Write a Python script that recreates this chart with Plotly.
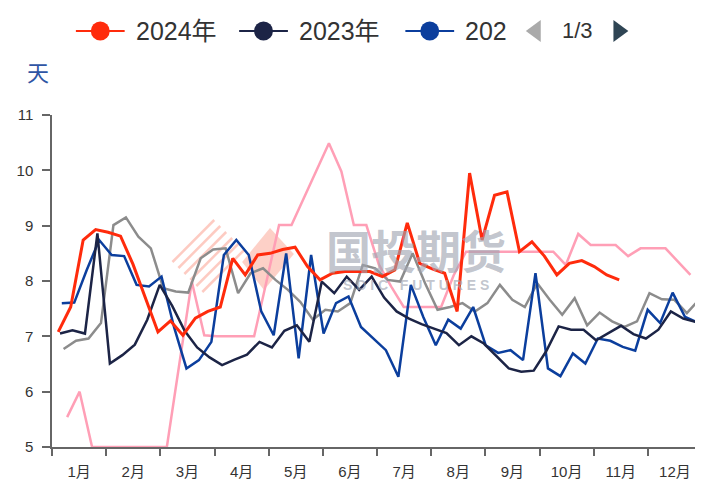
import pandas as pd
import plotly.graph_objects as go

# ---------------- data (weekly) ----------------
series_names = ["2020年", "2021年", "2022年", "2023年", "2024年"]
start_dates = ["2020-01-09", "2021-01-07", "2022-01-06", "2023-01-05", "2024-01-04"]

v2020 = [5.54, 6.00, 5.00, 5.00, 5.00, 5.00, 5.00, 5.00, 5.00, 6.50,
         7.99, 7.02, 7.00, 7.00, 7.00, 7.00, 8.00, 9.01, 9.01, 9.50,
         10.00, 10.49, 9.98, 9.01, 9.01, 8.30, 7.90, 7.53, 7.53, 7.53,
         7.53, 8.10, 8.53, 8.53, 8.53, 8.53, 8.53, 8.53, 8.53, 8.53,
         8.29, 8.85, 8.65, 8.65, 8.65, 8.45, 8.59, 8.59, 8.59, 8.35,
         8.11]
v2021 = [6.77, 6.92, 6.96, 7.24, 9.01, 9.15, 8.80, 8.59, 7.87, 7.81,
         7.79, 8.41, 8.57, 8.59, 7.78, 8.14, 8.23, 8.02, 7.84, 7.62,
         7.30, 7.48, 7.45, 7.60, 8.29, 8.23, 8.02, 7.99, 8.50, 7.96,
         7.48, 7.53, 7.60, 7.45, 7.60, 7.93, 7.66, 7.53, 7.96, 7.66,
         7.39, 7.69, 7.20, 7.43, 7.27, 7.17, 7.27, 7.78, 7.67, 7.66,
         7.42, 7.67]
v2022 = [7.60, 7.61, 8.20, 8.74, 8.47, 8.45, 7.93, 7.90, 8.08, 7.17,
         6.42, 6.57, 6.90, 8.47, 8.74, 8.47, 7.45, 7.02, 8.50, 6.60,
         8.47, 7.05, 7.60, 7.72, 7.17, 6.96, 6.75, 6.27, 7.93, 7.35,
         6.84, 7.30, 7.14, 7.53, 6.84, 6.70, 6.75, 6.57, 8.14, 6.42,
         6.28, 6.69, 6.51, 6.96, 6.92, 6.81, 6.74, 7.48, 7.24, 7.79,
         7.35, 7.25]
v2023 = [7.05, 7.11, 7.05, 8.86, 6.51, 6.66, 6.85, 7.30, 7.93, 7.55,
         7.10, 6.80, 6.62, 6.48, 6.58, 6.67, 6.90, 6.80, 7.10, 7.20,
         6.90, 7.99, 7.78, 8.08, 7.84, 8.08, 7.70, 7.45, 7.32, 7.22,
         7.14, 7.06, 6.84, 7.00, 6.87, 6.65, 6.42, 6.36, 6.38, 6.73,
         7.18, 7.12, 7.12, 6.93, 7.06, 7.19, 7.04, 6.96, 7.12, 7.45,
         7.32, 7.26]
v2024 = [7.08, 7.53, 8.74, 8.93, 8.88, 8.81, 8.30, 7.70, 7.08, 7.28,
         7.02, 7.33, 7.45, 7.53, 8.41, 8.11, 8.47, 8.50, 8.57, 8.61,
         8.26, 8.02, 8.14, 8.17, 8.17, 8.17, 8.08, 8.20, 9.05, 8.32,
         8.22, 8.14, 7.45, 9.95, 8.74, 9.55, 9.61, 8.53, 8.71, 8.45,
         8.11, 8.32, 8.37, 8.26, 8.11, 8.02]

month_labels = ["1月", "2月", "3月", "4月", "5月", "6月",
                "7月", "8月", "9月", "10月", "11月", "12月"]
y_ticks = [5, 6, 7, 8, 9, 10, 11]
unit_label = "天"

colors = ["#ff9fb6", "#8c8c8c", "#0b3e9d", "#1c2446", "#ff2b0c"]
widths = [2.5, 2.5, 2.5, 2.5, 3]
values = [v2020, v2021, v2022, v2023, v2024]

# ---------------- figure ----------------
# the page body adds an 8px margin, so layout numbers are shifted by OFF
W, H = 703, 482
OFF = 8
L, T = 49 - OFF, 115 - OFF
R = W - (702 - OFF)
B = H - (447 - OFF)
PW, PH = W - L - R, H - T - B


def px(x):
    """screen pixel x -> paper coordinate"""
    return (x - OFF - L) / PW


def py(y):
    """screen pixel y -> paper coordinate"""
    return (H - B - (y - OFF)) / PH


fig = go.Figure()

for name, start, vals, c, w in zip(series_names, start_dates, values, colors, widths):
    d = pd.date_range(start, periods=len(vals), freq="7D")
    xm = (d.dayofyear.to_numpy() - 0.5) / 365 * 12
    fig.add_trace(go.Scatter(x=xm, y=vals, name=name, mode="lines",
                             line=dict(color=c, width=w), showlegend=False,
                             hovertemplate=name + ": %{y}<extra></extra>"))

shapes = []
annotations = []

# watermark logo (behind data)
wm = "rgba(250,140,120,0.45)"
for i in range(6):
    x0 = 170 + i * 6
    y0 = 262 + i * 6
    shapes.append(dict(type="line", xref="paper", yref="paper", layer="below",
                       x0=px(x0), y0=py(y0), x1=px(x0 + 42), y1=py(y0 - 42),
                       line=dict(color=wm, width=2.5)))
shapes.append(dict(type="path", xref="paper", yref="paper", layer="below",
                   path="M %f,%f L %f,%f L %f,%f L %f,%f Z" % (
                       px(268), py(228), px(292), py(254), px(262), py(290), px(240), py(262)),
                   fillcolor="rgba(250,150,130,0.45)", line=dict(width=0)))

wm_text = "rgba(160,165,178,0.65)"
annotations.append(dict(text="国投期货", xref="paper", yref="paper",
                        x=px(415), y=py(249), xanchor="center", yanchor="middle",
                        showarrow=False,
                        font=dict(family="Noto Sans CJK SC", size=45, weight="bold",
                                  color=wm_text)))
annotations.append(dict(text="S D I C   F U T U R E S", xref="paper", yref="paper",
                        x=px(415), y=py(285), xanchor="center", yanchor="middle",
                        showarrow=False,
                        font=dict(family="Liberation Sans", size=14, weight="bold",
                                  color=wm_text)))

# custom legend (first page of a paged legend)
legend_items = [("2024年", colors[4], 73), ("2023年", colors[3], 237), ("202", colors[2], 404)]
ly = 31
for label, c, x0 in legend_items:
    shapes.append(dict(type="line", xref="paper", yref="paper",
                       x0=px(x0), y0=py(ly), x1=px(x0 + 49), y1=py(ly),
                       line=dict(color=c, width=2)))
    cx = x0 + 24.5
    shapes.append(dict(type="circle", xref="paper", yref="paper",
                       x0=px(cx - 9.5), x1=px(cx + 9.5), y0=py(ly + 9.5), y1=py(ly - 9.5),
                       fillcolor=c, line=dict(color=c, width=0)))
    annotations.append(dict(text=label, xref="paper", yref="paper",
                            x=px(x0 + 58), y=py(ly), xanchor="left", yanchor="middle",
                            showarrow=False,
                            font=dict(family="Liberation Sans, Noto Sans CJK SC", size=25,
                                      color="#333333")))
# pager arrows
shapes.append(dict(type="path", xref="paper", yref="paper",
                   path="M %f,%f L %f,%f L %f,%f Z" % (px(540), py(20), px(540), py(42), px(525), py(31)),
                   fillcolor="#aaaaaa", line=dict(width=0)))
shapes.append(dict(type="path", xref="paper", yref="paper",
                   path="M %f,%f L %f,%f L %f,%f Z" % (px(613), py(20), px(613), py(42), px(628), py(31)),
                   fillcolor="#2f4554", line=dict(width=0)))
annotations.append(dict(text="1/3", xref="paper", yref="paper",
                        x=px(577), y=py(ly), xanchor="center", yanchor="middle",
                        showarrow=False,
                        font=dict(family="Liberation Sans", size=22, color="#333333")))
# unit label
annotations.append(dict(text=unit_label, xref="paper", yref="paper",
                        x=px(35), y=py(71), xanchor="center", yanchor="middle",
                        showarrow=False,
                        font=dict(family="Noto Sans CJK SC", size=22, color="#2f55a4")))

fig.update_layout(
    width=W, height=H,
    margin=dict(l=L, r=R, t=T, b=B, pad=0),
    paper_bgcolor="white", plot_bgcolor="white",
    shapes=shapes, annotations=annotations,
    showlegend=False,
    font=dict(family="Liberation Sans, Noto Sans CJK SC", color="#333333"),
)
fig.update_xaxes(
    range=[0, 12], showgrid=False, zeroline=False,
    showline=True, linecolor="#666666", linewidth=1.5,
    tickmode="array", tickvals=[i + 0.5 for i in range(12)], ticktext=month_labels,
    ticks="", tickfont=dict(size=15, color="#333333"), ticklabelstandoff=10,
    minor=dict(ticks="outside", tick0=0, dtick=1, ticklen=7, tickwidth=1.5,
               tickcolor="#666666", showgrid=False),
)
fig.update_yaxes(
    range=[5, 11], showgrid=False, zeroline=False,
    showline=True, linecolor="#666666", linewidth=1.5,
    tickmode="array", tickvals=y_ticks,
    ticks="outside", ticklen=8, tickwidth=1.5, tickcolor="#666666",
    tickfont=dict(size=15, color="#333333"), ticklabelstandoff=6,
)

fig.write_html("out.html")
